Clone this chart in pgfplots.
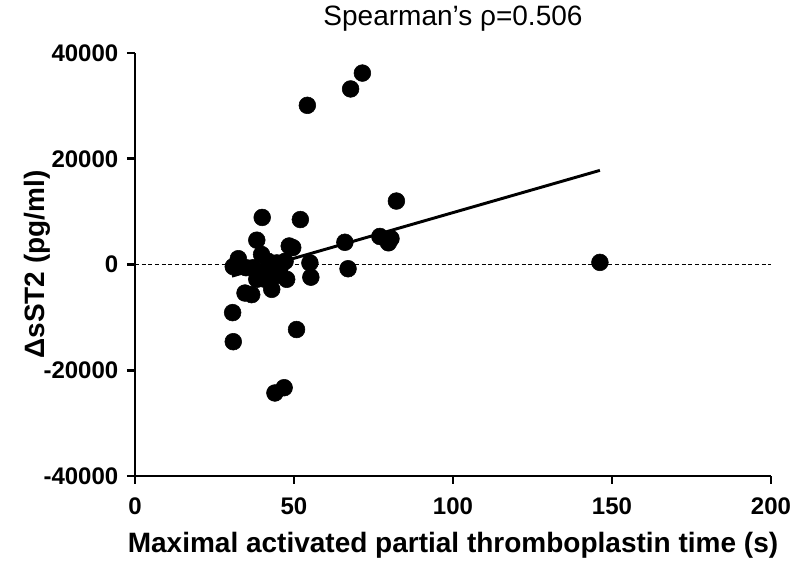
\documentclass[border=0pt]{standalone}
\usepackage{pgfplots}
\pgfplotsset{compat=1.18}
\usepackage{fontspec}
\setmainfont{Liberation Sans}
\begin{document}
\begin{tikzpicture}
\begin{axis}[
  scale only axis,
  width=477pt, height=317.25pt,
  xmin=0, xmax=200, ymin=-40000, ymax=40000,
  axis x line*=bottom, axis y line*=left,
  axis line style={line width=2pt},
  xtick={0,50,100,150,200},
  ytick={-40000,-20000,0,20000,40000},
  scaled y ticks=false,
  tick style={line width=2pt, black},
  tick align=outside,
  major tick length=6pt,
  /pgf/number format/assume math mode=true,
  /pgf/number format/1000 sep={},
  ticklabel style={font=\fontsize{18}{21}\selectfont\bfseries},
  xticklabel style={yshift=-7pt},
  yticklabel style={xshift=-3pt},
  xlabel={Maximal activated partial thromboplastin time (s)},
  ylabel={ΔsST2 (pg/ml)},
  xlabel style={font=\fontsize{21}{24}\selectfont\bfseries, yshift=-6pt},
  ylabel style={font=\fontsize{21}{24}\selectfont\bfseries, yshift=-12pt},
  title={Spearman's ρ=0.506},
  title style={font=\fontsize{21}{24}\selectfont, yshift=7pt},
  clip=false,
]
\addplot[black, dashed, dash pattern=on 3pt off 2pt, line width=1pt, forget plot] coordinates {(0,0) (200,0)};
\addplot[only marks, mark=*, mark size=6.3pt, black] coordinates {
(40,8900) (52,8500) (38.3,4600) (48.5,3500) (49.6,3200) (32.5,1100)
(30.9,-400) (66,4200) (55,300) (67,-800) (55.3,-2400) (47.7,-2800)
(43,-4700) (36.7,-5700) (34.6,-5400) (30.7,-9100) (30.9,-14600)
(50.8,-12300) (44,-24300) (46.9,-23300) (71.5,36200) (67.8,33200)
(54.2,30100) (82.2,12000) (77,5300) (79.7,4100) (80.5,4900) (146.2,400)
(39.8,1900) (41.9,600) (44.6,300) (37.2,-600) (39.3,-1600) (42.5,-900)
(45.6,-600) (40.9,-2800) (44,-2200) (38.3,-2800) (34.9,-600) (47.2,600)
};
\addplot[black, line width=2.2pt] coordinates {(30.5,-2200) (146.2,17800)};
\end{axis}
\pgfresetboundingbox
\path[use as bounding box] ([shift={(-101.25pt,-71.25pt)}]current axis.south west) rectangle ([shift={(21.75pt,39.75pt)}]current axis.north east);
\end{tikzpicture}
\end{document}
